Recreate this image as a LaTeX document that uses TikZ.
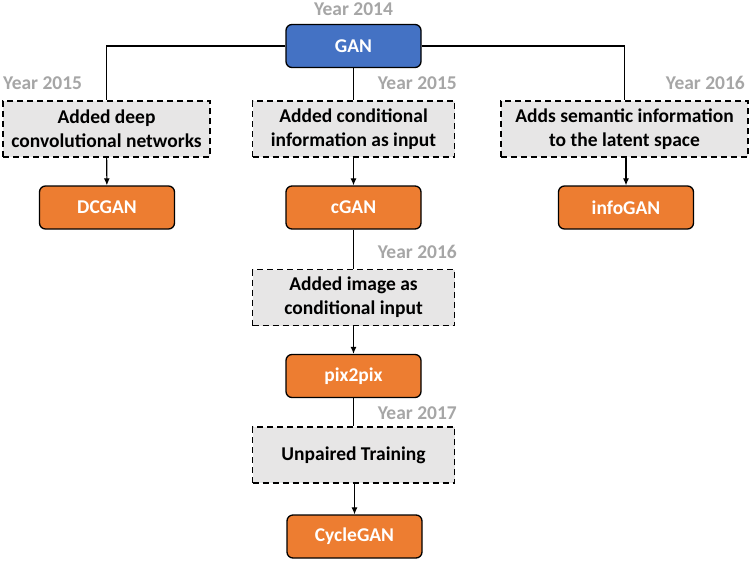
\documentclass[tikz,border=0pt]{standalone}
\usepackage{fontspec}
\setmainfont{Carlito}
\usepackage{xcolor}
\usetikzlibrary{arrows.meta}

\definecolor{ganblue}{HTML}{4472C4}
\definecolor{ganorange}{HTML}{ED7D31}
\definecolor{stepgray}{HTML}{E7E6E6}
\definecolor{yeargray}{HTML}{A6A6A6}

\tikzset{
  model/.style={shape=rectangle,rounded corners=6pt,draw=black,line width=1.3pt,
    fill=ganorange,text=white,minimum width=135pt,minimum height=43pt,
    font=\fontsize{19.5}{24}\selectfont\bfseries},
  idea/.style={shape=rectangle,draw=black,line width=1.3pt,dash pattern=on 6pt off 4pt,
    fill=stepgray,text=black,minimum width=202pt,minimum height=56pt,align=center,
    inner sep=0pt,font=\fontsize{19.5}{24}\selectfont\bfseries},
  year/.style={text=yeargray,inner sep=0pt,font=\fontsize{19.5}{22}\selectfont\bfseries},
  link/.style={line width=1.1pt},
  flow/.style={line width=1.1pt,-{Latex[length=7pt,width=6pt]}}
}

\begin{document}
\begin{tikzpicture}[x=1pt,y=-1pt]
\useasboundingbox (0,0) rectangle (749,560);

\node[model,fill=ganblue] (GAN) at (353.5,46) {GAN};
\node[year] (Y2014) at (353.5,9) {Year 2014};

\node[idea,minimum width=207pt] (deep) at (106.5,129) {Added deep\\convolutional networks};
\node[idea] (cond) at (353.5,129) {Added conditional\\information as input};
\node[idea,minimum width=247pt] (info) at (624.5,129) {Adds semantic information\\to the latent space};

\node[year,anchor=west] (Y2015a) at (3,83) {Year 2015};
\node[year,anchor=east] (Y2015b) at (457,83) {Year 2015};
\node[year,anchor=east] (Y2016a) at (745,83) {Year 2016};

\node[model] (DCGAN) at (107,207.5) {DCGAN};
\node[model] (cGAN) at (353.5,207.5) {cGAN};
\node[model] (infoGAN) at (626,207.5) {infoGAN};

\node[idea] (image) at (353.5,297.5) {Added image as\\conditional input};
\node[year,anchor=east] (Y2016b) at (457,252) {Year 2016};

\node[model] (pix) at (353.5,376) {pix2pix};

\node[idea] (unpaired) at (353.5,455) {Unpaired Training};
\node[year,anchor=east] (Y2017) at (457,413) {Year 2017};

\node[model] (cycle) at (354.5,536.5) {CycleGAN};

\draw[link] (GAN.west) -| (deep.north);
\draw[link] (GAN.east) -| (info.north);
\draw[link] (GAN) -- (cond);
\draw[link] (cGAN) -- (image);
\draw[link] (pix) -- (unpaired);

\draw[flow] (deep) -- (DCGAN);
\draw[flow] (cond) -- (cGAN);
\draw[flow] (info.south -| infoGAN.north) -- (infoGAN);
\draw[flow] (image) -- (pix);
\draw[flow] (unpaired.south -| cycle.north) -- (cycle);
\end{tikzpicture}
\end{document}
